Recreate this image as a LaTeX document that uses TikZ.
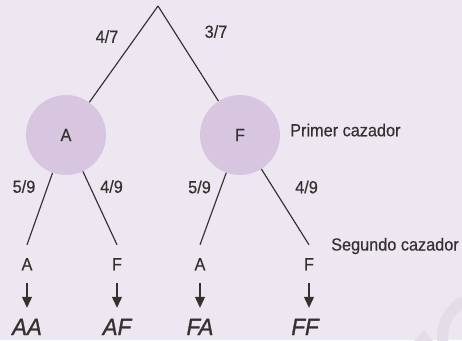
\documentclass[tikz,border=0pt]{standalone}
\usepackage{fontspec}
\setmainfont[FakeStretch=0.93,FakeBold=0.4]{Liberation Sans}
\newfontfamily\resfont[FakeStretch=0.95,FakeBold=1.2]{Liberation Sans}
\usetikzlibrary{arrows.meta}
\definecolor{bg}{RGB}{237,231,242}
\definecolor{circ}{RGB}{216,198,224}
\definecolor{ink}{RGB}{52,49,47}
\definecolor{wm}{RGB}{226,221,231}
\begin{document}
\begin{tikzpicture}[x=1pt,y=-1pt,
  every node/.style={font=\fontsize{17.5}{19}\selectfont, text=ink},
  ln/.style={draw=ink, line width=1.15pt},
  bubble/.style={circle, fill=circ, minimum size=80pt, inner sep=0pt},
  leaf/.style={inner xsep=2pt, inner ysep=12.75pt, text height=12.5pt, text depth=0pt},
  res/.style={font=\resfont\fontsize{23.5}{26}\selectfont\itshape, inner xsep=1pt, inner ysep=10pt, text height=17pt, text depth=0pt},
  arr/.style={draw=ink, line width=1.15pt, -{Triangle[length=11pt,width=10pt]}}]
\fill[bg] (0,0) rectangle (462,340);
\useasboundingbox (0,0) rectangle (462,340);
% faint watermark
\begin{scope}
\clip (0,0) rectangle (462,340);
\draw[wm, line width=11pt] (481,336) circle (38.5);
\fill[wm] (414,341) -- (424,330) -- (433,341) -- cycle;
\end{scope}
% tree
\coordinate (apex) at (158,6);
\node[bubble] (cA) at (66,135) {A};
\node[bubble] (cF) at (240,135) {F};
\draw[ln] (apex) -- (cA);
\draw[ln] (apex) -- (cF);
\node (p1) at (107,36.5) {4/7};
\node (p2) at (216,31.5) {3/7};
\node[anchor=west, inner sep=0pt] (l1) at (290,130) {Primer cazador};
\node[leaf] (aA) at (27,264) {A};
\node[leaf] (aF) at (117,264) {F};
\node[leaf] (fA) at (200,264) {A};
\node[leaf] (fF) at (309,264) {F};
\draw[ln] (cA) -- (aA.north);
\draw[ln] (cA) -- (aF.north);
\draw[ln] (cF) -- (fA.north);
\draw[ln] (cF) -- (fF.north);
\node (q1) at (24,186.5) {5/9};
\node (q2) at (111.5,186.5) {4/9};
\node (q3) at (199.5,187) {5/9};
\node (q4) at (306.5,187) {4/9};
\node[anchor=west, inner sep=0pt] (l2) at (331,246) {Segundo cazador};
\node[res] (rAA) at (27,326.5) {AA};
\node[res] (rAF) at (117,326.5) {AF};
\node[res] (rFA) at (200,326.5) {FA};
\node[res] (rFF) at (305,326.5) {FF};
\draw[arr] (aA.south) -- (aA.south |- rAA.north);
\draw[arr] (aF.south) -- (aF.south |- rAF.north);
\draw[arr] (fA.south) -- (fA.south |- rFA.north);
\draw[arr] (fF.south) -- (fF.south |- rFF.north);
\end{tikzpicture}
\end{document}
